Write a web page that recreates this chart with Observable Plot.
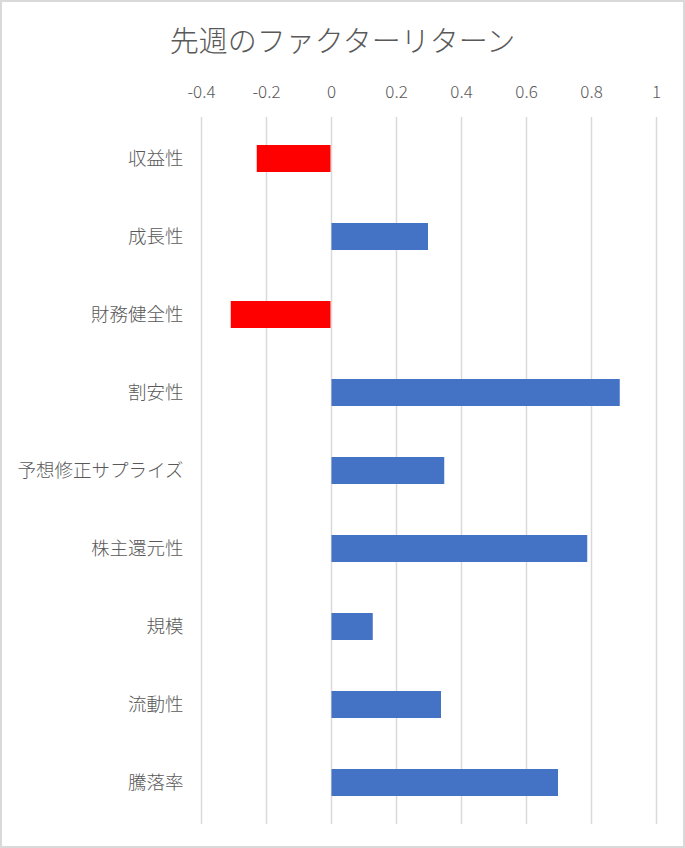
<!DOCTYPE html>
<html>
<head>
<meta charset="utf-8">
<script src="https://cdn.jsdelivr.net/npm/d3@7"></script>
<script src="https://cdn.jsdelivr.net/npm/@observablehq/plot@0.6"></script>
<style>
  html, body { margin: 0; padding: 0; background: #fff; }
  #wrap { position: relative; width: 685px; height: 848px; overflow: hidden; font-family: "Noto Sans CJK JP", "Noto Sans", sans-serif; }
  #title { position: absolute; left: 0; right: 0; top: 23px; text-align: center; font-size: 29px; line-height: 33px; color: #595959; font-weight: 300; }
  #chart { position: absolute; left: 0; top: 0; }
  #chart text { font-weight: 300; }
  #border { position: absolute; left: 0; top: 0; right: 0; bottom: 0; border: 2px solid #d9d9d9; pointer-events: none; }
</style>
</head>
<body>
<div id="wrap">
  <div id="chart"></div>
  <div id="title">先週のファクターリターン</div>
  <div id="border"></div>
</div>
<script>
const categories = ["収益性", "成長性", "財務健全性", "割安性", "予想修正サプライズ", "株主還元性", "規模", "流動性", "騰落率"];
const values = [-0.23, 0.30, -0.31, 0.89, 0.35, 0.79, 0.13, 0.34, 0.70];
const tickValues = [-0.4, -0.2, 0, 0.2, 0.4, 0.6, 0.8, 1];
const tickLabels = ["-0.4", "-0.2", "0", "0.2", "0.4", "0.6", "0.8", "1"];

const data = categories.map((c, i) => ({category: c, value: values[i]}));

const chart = Plot.plot({
  width: 685,
  height: 848,
  marginTop: 117,
  marginBottom: 24,
  marginLeft: 201,
  marginRight: 29,
  style: {fontFamily: '"Noto Sans CJK JP", "Noto Sans", sans-serif', color: "#595959", background: "transparent"},
  x: {domain: [-0.4, 1]},
  y: {domain: categories, paddingInner: 0.65, paddingOuter: 0.31},
  marks: [
    Plot.ruleX(tickValues, {stroke: "#d9d9d9", strokeWidth: 1.5}),
    Plot.barX(data, {x1: 0, x2: "value", y: "category", fill: d => d.value < 0 ? "#ff0000" : "#4472c4", insetLeft: 0.5, insetRight: 0.5}),
    Plot.axisX({anchor: "top", ticks: tickValues, tickFormat: (d) => tickLabels[tickValues.indexOf(d)], tickSize: 0, tickPadding: 20, fontSize: 17, label: null, fill: "#595959"}),
    Plot.axisY({tickSize: 0, tickPadding: 18, fontSize: 18.5, label: null, fill: "#595959"})
  ]
});
document.getElementById("chart").appendChild(chart);
</script>
</body>
</html>
